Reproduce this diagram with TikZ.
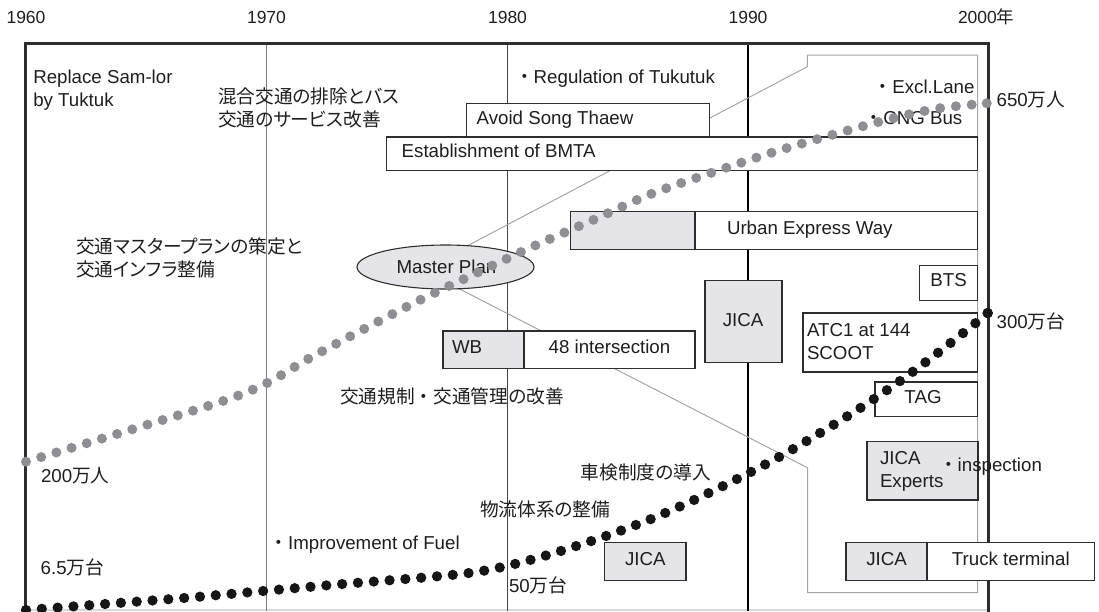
\documentclass[tikz,border=0pt]{standalone}
\usepackage{fontspec}
\setmainfont{Liberation Sans}
\newfontfamily\jp[RawFeature=+palt]{Noto Sans CJK JP}
\newfontfamily\jpf{Noto Sans CJK JP}
\usetikzlibrary{shapes.geometric}
\pgfdeclarelayer{background}
\pgfsetlayers{background,main}
\definecolor{ink}{RGB}{30,30,30}
\definecolor{boxg}{RGB}{229,229,233}
\definecolor{dotg}{RGB}{142,142,148}
\definecolor{dotb}{RGB}{22,22,22}
\definecolor{callout}{RGB}{165,165,165}
\definecolor{edge}{RGB}{45,45,45}
\newcommand\fs{\fontsize{18.7}{23}\selectfont}
\newcommand\fy{\fontsize{17.5}{20}\selectfont}
\begin{document}
\begin{tikzpicture}[x=1pt,y=-1pt,
  every node/.style={inner sep=0pt, outer sep=0pt, font=\fs, text=ink},
  txt/.style={text height=0.72em, text depth=0pt},
  multi/.style={align=left, anchor=west},
  box/.style={draw=edge, line width=1.1pt, fill=white, rectangle, anchor=north west},
  gbox/.style={box, fill=boxg},
  calloutline/.style={draw=callout, line width=1pt, line join=miter},
  gdots/.style={draw=dotg, line width=10pt, line cap=round, dash pattern=on 0pt off 15.87pt},
  bdots/.style={draw=dotb, line width=10.3pt, line cap=round, dash pattern=on 0pt off 15.86pt},
]
\useasboundingbox (0,0) rectangle (1099,611);

% ---------- coordinates ----------
\coordinate (ftl) at (25,43.5);
\coordinate (ftr) at (988,43.5);
\coordinate (fbl) at (25,612);
\coordinate (fbr) at (988,612);
\coordinate (gbl) at (25,610);
\coordinate (gbr) at (988,610);
\coordinate (l70t) at (266.7,43.5);
\coordinate (l70b) at (266.7,611);
\coordinate (l80t) at (507.5,43.5);
\coordinate (l80b) at (507.5,611);
\coordinate (l90t) at (748,43.5);
\coordinate (l90b) at (748,611);
\coordinate (c1) at (807.3,66.7);
\coordinate (c2) at (807.3,55);
\coordinate (c3) at (977.7,55);
\coordinate (c4) at (977.7,592.7);
\coordinate (c5) at (807.5,592.7);
\coordinate (c6) at (807.5,467.7);
\coordinate (gend) at (986.7,103.3);
\coordinate (bend) at (987.7,313);

% ---------- year labels ----------
\node[txt, font=\fy] (y60) at (26,20) {1960};
\node[txt, font=\fy] (y70) at (266.5,20) {1970};
\node[txt, font=\fy] (y80) at (507.5,20) {1980};
\node[txt, font=\fy] (y90) at (748,20) {1990};
\node[txt, font=\fy, anchor=west] (y00) at (958,20) {2000{\jp 年}};

% ---------- Master Plan ellipse ----------
\node[ellipse, draw=edge, line width=1.1pt, fill=boxg, minimum width=177, minimum height=44] (mp) at (445.5,267) {};
\node[txt] (mptxt) at (446.5,269.5) {Master Plan};

% ---------- background: frame, year lines, callout ----------
\begin{pgfonlayer}{background}
\draw[gray!30, line width=1.2pt] (gbl) -- (gbr);
\draw[draw={rgb,255:red,125;green,125;blue,125}, line width=1pt] (l70t) -- (l70b);
\draw[draw={rgb,255:red,70;green,70;blue,70}, line width=1pt] (l80t) -- (l80b);
\draw[black, line width=1.6pt] (l90t) -- (l90b);
\draw[calloutline] (mp.44) -- (c1) -- (c2) -- (c3) -- (c4) -- (c5) -- (c6) -- (mp.-58);
\draw[edge, line width=3pt, line join=miter] (fbl) -- (ftl) -- (ftr) -- (fbr);
\end{pgfonlayer}

% ---------- boxes ----------
\node[box, minimum width=242.6, minimum height=33.4] (avoid) at (466.7,103.3) {};
\node[txt, anchor=west] (avoidt) at (476.7,120.5) {Avoid Song Thaew};
\node[box, minimum width=591, minimum height=33.7] (est) at (386.7,137) {};
\node[txt, anchor=west] (estt) at (401.7,154) {Establishment of BMTA};

\node[gbox, minimum width=124.3, minimum height=37.6] (urbg) at (570.7,211.7) {};
\node[box, minimum width=282.7, minimum height=37.6] (urbw) at (695,211.7) {};
\node[txt, anchor=west] (urbt) at (727,231) {Urban Express Way};

\node[box, minimum width=58.2, minimum height=35] (bts) at (919.5,265.7) {};
\node[txt] (btst) at (948.6,283.2) {BTS};

\node[gbox, minimum width=77, minimum height=82.4] (jica1) at (705,280.3) {};
\node[txt] (jica1t) at (743,323) {JICA};

\node[box, minimum width=174.7, minimum height=59] (atc) at (803,313) {};
\node[multi] (atct) at (807,341.5) {ATC1 at 144\\SCOOT};

\node[gbox, minimum width=81, minimum height=37.3] (wb) at (443,331) {};
\node[txt, anchor=west] (wbt) at (452,350) {WB};
\node[box, minimum width=171, minimum height=37.3] (int) at (524,331) {};
\node[txt] (intt) at (609.5,350) {48 intersection};

\node[box, minimum width=102.7, minimum height=34.7] (tag) at (875,382) {};
\node[txt] (tagt) at (923,400) {TAG};

\node[gbox, minimum width=111, minimum height=58.3] (jexp) at (867,441.7) {};
\node[multi] (jexpt) at (880,471.2) {JICA\\Experts};

\node[gbox, minimum width=81.3, minimum height=38] (jica2) at (604.7,542.3) {};
\node[txt] (jica2t) at (645.3,562) {JICA};

\node[gbox, minimum width=81, minimum height=38] (jica3) at (846,542.3) {};
\node[txt] (jica3t) at (886.5,562) {JICA};
\node[box, minimum width=167.7, minimum height=38] (trk) at (927,542.3) {};
\node[txt] (trkt) at (1010.8,562) {Truck terminal};

% ---------- free texts ----------
\node[multi] (rep) at (33.3,90.3) {Replace Sam-lor\\by Tuktuk};
\node[multi, font=\fs\jp] (mix) at (218,107.5) {混合交通の排除とバス\\交通のサービス改善};
\node[txt, anchor=west] (reg) at (515,80) {{\jpf ・}Regulation of Tukutuk};
\node[txt, anchor=west] (excl) at (873.7,90) {{\jpf ・}Excl.Lane};
\node[txt, anchor=west] (cng) at (864.6,121) {{\jpf ・}CNG Bus};
\node[multi, font=\fs\jp] (mast) at (76,257.5) {交通マスタープランの策定と\\交通インフラ整備};
\node[txt, anchor=west, font=\fs\jp] (kisei) at (340,400) {交通規制{\jpf ・}交通管理の改善};
\node[txt, anchor=west] (p200) at (41,479) {200{\jp 万人}};
\node[txt, anchor=west] (v65) at (40.7,571) {6.5{\jp 万台}};
\node[txt, anchor=west] (fuel) at (269.5,546) {{\jpf ・}Improvement of Fuel};
\node[txt, anchor=west] (v50) at (509,588.5) {50{\jp 万台}};
\node[txt, anchor=west, font=\fs\jp] (butsu) at (480,513.3) {物流体系の整備};
\node[txt, anchor=west, font=\fs\jp] (shaken) at (580.7,476) {車検制度の導入};
\node[txt, anchor=west] (p650) at (996.6,103.3) {650{\jp 万人}};
\node[txt, anchor=west] (v300) at (996.6,325) {300{\jp 万台}};
\node[txt, anchor=west] (insp) at (939,468.3) {{\jpf ・}inspection};

% ---------- dotted curves ----------
\draw[gdots] plot[smooth, tension=0.55] coordinates {(26,461.7) (130,430) (223,401) (267,383) (308,359) (364,329) (420,300) (476,273.3) (534,246) (593,220) (651,194) (711.7,172.7) (771.7,152.7) (831.7,135) (892.7,118.3) (939.3,108.3) (986.7,103.3)};
\fill[dotg] (gend) circle (5pt);
\draw[bdots] plot[smooth, tension=0.55] coordinates {(26,610) (105,604) (184,598) (263,591) (342.7,584) (421.7,577.7) (469,573) (499,567.7) (530,560) (560.7,551) (606,536) (651,519) (694,500) (737,479) (779,457) (820,433) (860.7,407.7) (900,381) (938,352.7) (975.7,323) (987.7,313)};
\fill[dotb] (bend) circle (5.15pt);
\end{tikzpicture}
\end{document}
